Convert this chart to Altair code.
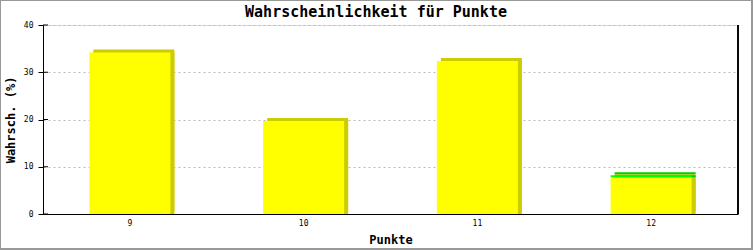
import altair as alt
import pandas as pd

# data
punkte = ["9", "10", "11", "12"]
serie_a = [34.2, 19.7, 32.4, 7.8]
serie_b = [0.0, 0.0, 0.0, 0.4]
y_ticks = [0, 10, 20, 30, 40]
titel = "Wahrscheinlichkeit für Punkte"

rows = []
for p, a, b in zip(punkte, serie_a, serie_b):
    rows.append({"Punkte": p, "Serie": "A", "order": 0, "Wert": a})
    rows.append({"Punkte": p, "Serie": "B", "order": 1, "Wert": b})
df = pd.DataFrame(rows)
ticks_df = pd.DataFrame({"Wert": y_ticks})
title_df = pd.DataFrame({"t": [titel]})

W, H = 695, 189
FONT = "DejaVu Sans Mono"

y_scale = alt.Scale(domain=[0, 40], nice=False)
y_axis = alt.Axis(values=y_ticks, tickSize=5, tickColor="black",
                  labelPadding=5, labelFont=FONT, labelFontSize=8,
                  labelColor="black", titleFont=FONT, titleFontSize=12,
                  titleFontWeight="bold", titlePadding=6, titleColor="black",
                  domainColor="black", domainWidth=1,
                  grid=True, gridColor="#bbbbbb", gridDash=[2, 3], gridWidth=1)

x_enc = alt.X("Punkte:N", sort=punkte, title="Punkte",
              scale=alt.Scale(paddingInner=0.0, paddingOuter=0.0),
              axis=alt.Axis(labelAngle=0, ticks=False, labelPadding=5,
                            labelFont=FONT, labelFontSize=8, labelColor="black",
                            titleFont=FONT, titleFontSize=12, titleFontWeight="bold",
                            titleColor="black", titlePadding=7,
                            domainColor="black", domainWidth=1))
y_enc = alt.Y("Wert:Q", stack="zero", title="Wahrsch. (%)", scale=y_scale, axis=y_axis)

def col(rng):
    return alt.Color("Serie:N", legend=None,
                     scale=alt.Scale(domain=["A", "B"], range=rng))

back = alt.Chart(df).mark_bar(width=81, xOffset=4, yOffset=-3).encode(
    x=x_enc, y=y_enc, color=col(["#cccc00", "#00cc00"]), order=alt.Order("order:Q"))
side = alt.Chart(df).mark_bar(width=81, xOffset=4).encode(
    x=x_enc, y=y_enc, color=col(["#cccc00", "#00cc00"]), order=alt.Order("order:Q"))
front = alt.Chart(df).mark_bar(width=81).encode(
    x=x_enc, y=y_enc, color=col(["#ffff00", "#00ff00"]), order=alt.Order("order:Q"))

inner_ticks = alt.Chart(ticks_df).mark_rule(color="black", strokeWidth=1).encode(
    y=alt.Y("Wert:Q", scale=y_scale, axis=y_axis, title="Wahrsch. (%)"),
    x=alt.value(0), x2=alt.value(5),
)
right_line = alt.Chart(ticks_df).mark_rule(color="black", strokeWidth=1).encode(
    x=alt.value(W), y=alt.value(0), y2=alt.value(H),
)
title_text = alt.Chart(title_df).mark_text(
    font=FONT, fontSize=15, fontWeight="bold", color="black",
    align="center", baseline="middle").encode(
    text="t:N", x=alt.value(333), y=alt.value(-13))

# frame around the whole picture
frame_top = alt.Chart(ticks_df).mark_rule(color="#999999", strokeWidth=1).encode(
    x=alt.value(-43), x2=alt.value(710), y=alt.value(-24.5))
frame_left = alt.Chart(ticks_df).mark_rule(color="#999999", strokeWidth=1).encode(
    x=alt.value(-42.5), y=alt.value(-25), y2=alt.value(225))
frame_bottom = alt.Chart(ticks_df).mark_rule(color="#999999", strokeWidth=2).encode(
    x=alt.value(-43), x2=alt.value(710), y=alt.value(224))
frame_right = alt.Chart(ticks_df).mark_rule(color="#999999", strokeWidth=2).encode(
    x=alt.value(709), y=alt.value(-25), y2=alt.value(225))

chart = alt.layer(back, side, front, inner_ticks, right_line, title_text,
                  frame_top, frame_left, frame_bottom, frame_right).resolve_scale(
    color="independent"
).properties(
    width=W, height=H,
    padding={"left": 43, "top": 25, "right": 15, "bottom": 36},
    autosize=alt.AutoSizeParams(type="none"),
).configure_view(stroke=None).configure(background="white")

chart.save("out.html", embed_options={"renderer": "svg", "actions": False})
